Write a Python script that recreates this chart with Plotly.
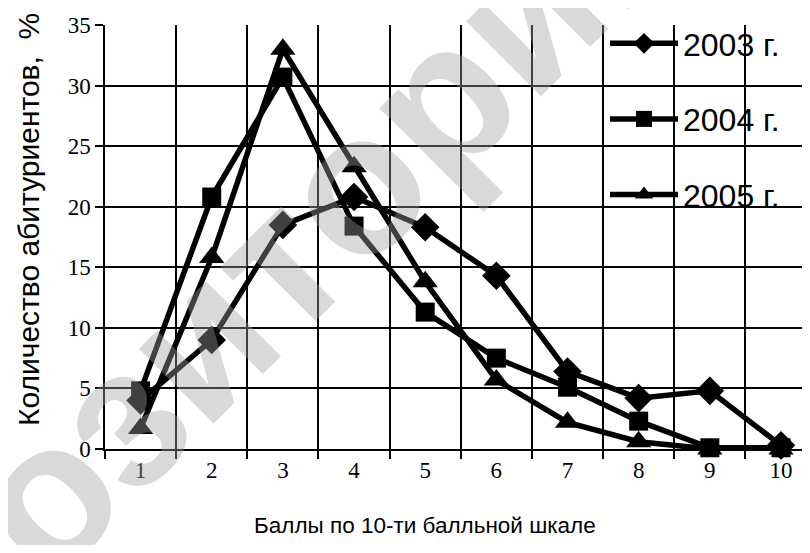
import plotly.graph_objects as go

categories = ["1", "2", "3", "4", "5", "6", "7", "8", "9", "10"]
y2003 = [4.0, 9.0, 18.5, 20.8, 18.3, 14.3, 6.4, 4.2, 4.8, 0.3]
y2004 = [4.8, 20.8, 30.7, 18.4, 11.3, 7.5, 5.1, 2.3, 0.1, 0.1]
y2005 = [1.7, 15.8, 33.0, 23.3, 13.8, 5.7, 2.2, 0.6, 0.0, 0.0]
series_names = ["2003 г.", "2004 г.", "2005 г."]
y_ticks = [0, 5, 10, 15, 20, 25, 30, 35]

# the page body has an 8px margin; work in window pixels and convert
OFF = 8
W, H = 810 - 2 * OFF, 553 - 2 * OFF
PLOT_L, PLOT_R, PLOT_T, PLOT_B = 105, 802, 25, 449  # window pixels
ML = PLOT_L - OFF
MR = W - (PLOT_R - OFF)
MT = PLOT_T - OFF
MB = H - (PLOT_B - OFF)
PW, PH = W - ML - MR, H - MT - MB

def px_x(px):
    return (px - OFF - ML) / PW

def px_y(py):
    return (H - MB - (py - OFF)) / PH

fig = go.Figure()
symbols = ["diamond", "square", "triangle-up"]
sizes = [22, 19, 22]
for name, ys, sym, sz in zip(series_names, [y2003, y2004, y2005], symbols, sizes):
    fig.add_trace(go.Scatter(
        x=categories, y=ys, name=name, mode="lines+markers",
        line=dict(color="black", width=5.5),
        marker=dict(symbol=sym, size=sz, color="black", line=dict(width=0)),
        cliponaxis=False, legendgroup=name,
    ))

x_right = 9 + (PLOT_R - 781) / ((781 - 141) / 9)

fig.update_layout(
    width=W, height=H,
    margin=dict(l=ML, r=MR, t=MT, b=MB),
    paper_bgcolor="white", plot_bgcolor="white",
    showlegend=True,
    legend=dict(
        x=px_x(605), y=px_y(16), xanchor="left", yanchor="top",
        bgcolor="rgba(0,0,0,0)", borderwidth=0,
        font=dict(family="Liberation Sans, Arial", size=32, color="black"),
        tracegroupgap=31, itemwidth=68,
    ),
    xaxis=dict(
        type="category", range=[-0.5, x_right], tickson="boundaries",
        showgrid=True, gridcolor="black", gridwidth=1.5,
        showline=True, linecolor="black", linewidth=1.5,
        ticks="outside", ticklen=8, tickcolor="black", tickwidth=1.5,
        tickfont=dict(family="Liberation Serif, Times New Roman", size=23, color="black"),
        zeroline=False,
    ),
    yaxis=dict(
        range=[0, 35], tickvals=y_ticks,
        showgrid=True, gridcolor="black", gridwidth=1.5,
        showline=True, linecolor="black", linewidth=1.5,
        ticks="outside", ticklen=8, tickcolor="black", tickwidth=1.5,
        tickfont=dict(family="Liberation Serif, Times New Roman", size=23, color="black"),
        zeroline=False,
    ),
)

# white area behind the legend that hides the grid
fig.add_shape(type="rect", xref="paper", yref="paper",
              x0=px_x(560), x1=1.0, y0=px_y(229), y1=px_y(0),
              fillcolor="white", line=dict(width=0), layer="between")

fig.add_annotation(
    text="Количество абитуриентов,\u00a0\u00a0%", textangle=-90,
    xref="paper", yref="paper", x=px_x(28), y=px_y(220),
    xanchor="center", yanchor="middle",
    showarrow=False, font=dict(family="Liberation Sans, Arial", size=30, color="black"),
)
fig.add_annotation(
    text="Баллы по 10-ти балльной шкале",
    xref="paper", yref="paper", x=px_x(425), y=px_y(525),
    xanchor="center", yanchor="middle",
    showarrow=False, font=dict(family="Liberation Sans, Arial", size=22.5, color="black"),
)
# watermark
fig.add_annotation(
    text="<b>Репозиторий</b>", textangle=-45,
    xref="paper", yref="paper", x=px_x(200), y=px_y(338),
    xanchor="center", yanchor="middle",
    showarrow=False, font=dict(family="Liberation Sans, Arial", size=200, color="rgba(160,160,160,0.4)"),
)

fig.write_html("out.html")
